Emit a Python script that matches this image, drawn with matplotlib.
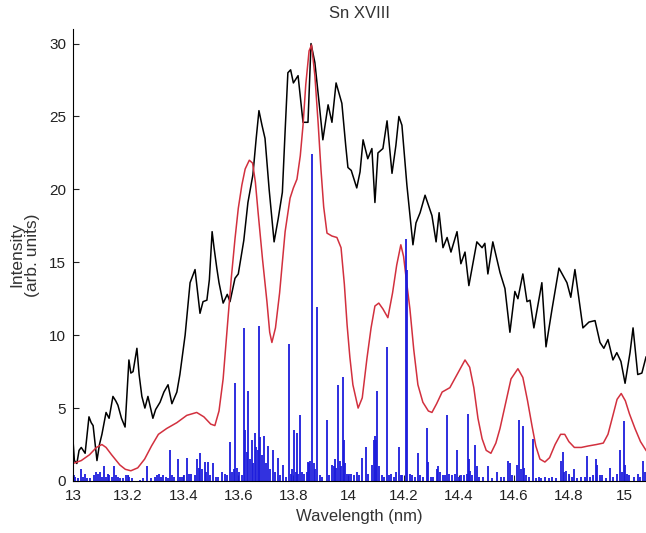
import numpy as np
import matplotlib.pyplot as plt
from matplotlib.ticker import FuncFormatter

# measured spectrum (black)
wl_exp = [13.000, 13.005, 13.014, 13.022, 13.030, 13.044, 13.058, 13.066, 13.073, 13.087,
          13.096, 13.105, 13.120, 13.131, 13.145, 13.155, 13.163, 13.176, 13.189, 13.203,
          13.210, 13.218, 13.232, 13.240, 13.250, 13.261, 13.272, 13.290, 13.300, 13.316,
          13.330, 13.345, 13.359, 13.377, 13.388, 13.407, 13.425, 13.443, 13.452, 13.461,
          13.472, 13.486, 13.495, 13.505, 13.512, 13.522, 13.530, 13.545, 13.560, 13.570,
          13.588, 13.600, 13.620, 13.635, 13.653, 13.665, 13.675, 13.686, 13.697, 13.712,
          13.730, 13.745, 13.760, 13.770, 13.780, 13.790, 13.800, 13.817, 13.835, 13.853,
          13.864, 13.878, 13.893, 13.907, 13.926, 13.940, 13.955, 13.976, 13.990, 13.998,
          14.010, 14.030, 14.042, 14.053, 14.070, 14.085, 14.096, 14.107, 14.125, 14.140,
          14.158, 14.172, 14.183, 14.194, 14.212, 14.234, 14.245, 14.260, 14.278, 14.303,
          14.318, 14.329, 14.343, 14.358, 14.372, 14.394, 14.408, 14.423, 14.437, 14.466,
          14.485, 14.495, 14.506, 14.524, 14.550, 14.568, 14.586, 14.604, 14.615, 14.633,
          14.648, 14.659, 14.673, 14.702, 14.717, 14.739, 14.764, 14.793, 14.807, 14.822,
          14.851, 14.873, 14.895, 14.913, 14.927, 14.942, 14.960, 14.974, 14.989, 15.004,
          15.022, 15.033, 15.050, 15.065, 15.080]
int_exp = [2.8, 1.4, 1.2, 2.1, 2.3, 1.9, 4.4, 4.0, 3.8, 1.4,
           2.5, 3.2, 4.7, 4.3, 5.8, 5.5, 5.2, 4.3, 3.7, 8.3,
           7.4, 7.5, 9.1, 7.3, 5.8, 5.0, 5.8, 4.3, 4.9, 5.4,
           6.1, 6.6, 5.3, 6.1, 7.3, 10.0, 13.6, 14.5, 13.0, 11.5,
           12.3, 12.4, 13.8, 17.1, 16.0, 14.6, 13.6, 12.2, 12.8, 12.3,
           13.9, 14.2, 16.5, 19.1, 21.0, 23.5, 25.4, 24.4, 23.5, 20.0,
           16.4, 18.0, 19.8, 24.0, 28.0, 28.2, 27.3, 27.8, 24.6, 24.6,
           30.0, 28.7, 26.0, 23.4, 25.8, 24.6, 27.3, 25.9, 23.0, 21.5,
           21.3, 20.1, 21.2, 23.4, 22.1, 22.8, 19.1, 22.5, 22.8, 24.7,
           21.1, 23.0, 25.0, 24.4, 20.3, 16.2, 17.7, 18.4, 19.6, 18.2,
           16.4, 18.4, 16.0, 16.7, 15.7, 17.1, 14.9, 15.7, 13.4, 16.4,
           16.0, 16.3, 14.2, 16.4, 14.3, 13.2, 10.2, 13.0, 12.5, 14.2,
           12.3, 12.4, 10.5, 13.6, 9.2, 11.8, 14.6, 13.6, 12.6, 14.5,
           10.5, 10.9, 11.0, 9.5, 9.1, 9.7, 8.3, 8.8, 8.2, 6.7,
           8.8, 10.5, 7.3, 7.4, 8.5]

# convolved calculation (red)
wl_conv = [13.000, 13.030, 13.060, 13.085, 13.105, 13.120, 13.140, 13.170, 13.190, 13.210,
           13.235, 13.260, 13.285, 13.310, 13.340, 13.377, 13.413, 13.449, 13.475, 13.500,
           13.515, 13.530, 13.545, 13.562, 13.575, 13.588, 13.600, 13.613, 13.625, 13.640,
           13.652, 13.662, 13.672, 13.688, 13.704, 13.714, 13.722, 13.735, 13.750, 13.760,
           13.770, 13.788, 13.800, 13.813, 13.825, 13.835, 13.845, 13.857, 13.866, 13.878,
           13.890, 13.900, 13.910, 13.922, 13.940, 13.958, 13.973, 13.985, 13.995, 14.005,
           14.016, 14.035, 14.050, 14.067, 14.082, 14.096, 14.110, 14.125, 14.143, 14.160,
           14.175, 14.190, 14.200, 14.210, 14.223, 14.237, 14.252, 14.270, 14.290, 14.303,
           14.320, 14.340, 14.368, 14.397, 14.423, 14.440, 14.455, 14.470, 14.485, 14.500,
           14.517, 14.535, 14.550, 14.570, 14.590, 14.615, 14.633, 14.650, 14.666, 14.680,
           14.695, 14.713, 14.730, 14.750, 14.770, 14.785, 14.800, 14.820, 14.845, 14.870,
           14.900, 14.925, 14.942, 14.960, 14.975, 14.990, 15.005, 15.020, 15.040, 15.060,
           15.080]
int_conv = [1.2, 1.4, 1.8, 2.3, 2.5, 2.3, 1.8, 1.1, 0.8, 0.7,
            0.9, 1.5, 2.4, 3.2, 3.6, 4.0, 4.5, 4.7, 4.4, 3.9,
            3.8, 4.8, 7.0, 11.0, 14.0, 16.6, 18.7, 20.3, 21.4, 22.0,
            21.8, 20.5, 18.4, 15.2, 12.3, 10.2, 9.5, 10.5, 12.9, 15.0,
            17.1, 19.4, 20.1, 20.7, 22.3, 24.4, 27.2, 29.5, 29.9, 27.8,
            24.5, 21.4, 18.8, 17.0, 16.8, 16.7, 16.0, 13.5, 10.7, 8.5,
            6.6, 5.0, 5.7, 8.4, 10.5, 12.0, 12.2, 11.8, 11.2, 12.9,
            14.8, 16.2, 15.4, 13.8, 11.8, 9.0, 6.6, 5.4, 4.8, 4.7,
            5.3, 6.1, 6.4, 7.4, 8.3, 7.8, 6.4, 4.3, 2.9, 2.1,
            1.9, 2.6, 3.6, 5.3, 7.0, 7.7, 7.1, 5.5, 3.8, 2.4,
            1.5, 1.3, 1.6, 2.5, 3.2, 3.2, 2.7, 2.3, 2.3, 2.4,
            2.5, 2.6, 3.2, 4.5, 5.6, 6.0, 5.5, 4.6, 3.6, 2.7,
            2.1]

# individual transition lines (blue)
wl_lines = [13.002, 13.008, 13.018, 13.028, 13.035, 13.042, 13.050, 13.062, 13.075, 13.085,
            13.092, 13.098, 13.104, 13.112, 13.118, 13.126, 13.132, 13.140, 13.150, 13.156,
            13.164, 13.172, 13.180, 13.192, 13.198, 13.205, 13.214, 13.245, 13.255, 13.268,
            13.282, 13.298, 13.306, 13.312, 13.318, 13.326, 13.336, 13.344, 13.352, 13.360,
            13.368, 13.380, 13.388, 13.396, 13.404, 13.413, 13.421, 13.430, 13.442, 13.450,
            13.457, 13.462, 13.470, 13.478, 13.484, 13.490, 13.496, 13.510, 13.518, 13.528,
            13.540, 13.552, 13.560, 13.570, 13.578, 13.583, 13.588, 13.595, 13.603, 13.612,
            13.620, 13.625, 13.630, 13.636, 13.642, 13.650, 13.655, 13.660, 13.666, 13.670,
            13.675, 13.680, 13.686, 13.692, 13.700, 13.708, 13.716, 13.725, 13.733, 13.744,
            13.752, 13.763, 13.772, 13.784, 13.790, 13.796, 13.802, 13.808, 13.813, 13.818,
            13.824, 13.830, 13.840, 13.848, 13.852, 13.857, 13.862, 13.868, 13.874, 13.880,
            13.886, 13.895, 13.905, 13.922, 13.930, 13.940, 13.946, 13.952, 13.956, 13.962,
            13.968, 13.974, 13.980, 13.984, 13.988, 13.995, 14.002, 14.010, 14.020, 14.030,
            14.040, 14.050, 14.063, 14.072, 14.085, 14.092, 14.096, 14.100, 14.104, 14.110,
            14.120, 14.130, 14.140, 14.148, 14.155, 14.165, 14.174, 14.183, 14.190, 14.196,
            14.210, 14.214, 14.222, 14.230, 14.240, 14.252, 14.260, 14.270, 14.285, 14.290,
            14.298, 14.308, 14.320, 14.326, 14.334, 14.342, 14.350, 14.357, 14.365, 14.375,
            14.385, 14.394, 14.400, 14.410, 14.420, 14.430, 14.435, 14.438, 14.442, 14.450,
            14.460, 14.466, 14.475, 14.490, 14.506, 14.520, 14.540, 14.552, 14.565, 14.580,
            14.585, 14.595, 14.610, 14.620, 14.626, 14.633, 14.637, 14.645, 14.655, 14.670,
            14.680, 14.690, 14.700, 14.715, 14.728, 14.740, 14.755, 14.770, 14.778, 14.784,
            14.790, 14.800, 14.810, 14.820, 14.830, 14.845, 14.858, 14.866, 14.875, 14.888,
            14.898, 14.903, 14.912, 14.920, 14.935, 14.950, 14.962, 14.975, 14.985, 14.992,
            15.000, 15.004, 15.010, 15.020, 15.035, 15.050, 15.060, 15.070, 15.076]
gf_lines = [0.4, 0.3, 0.2, 0.8, 0.3, 0.5, 0.2, 0.2, 0.4, 0.6,
            0.5, 0.6, 0.3, 1.0, 0.3, 0.5, 0.4, 0.3, 1.0, 0.4,
            0.3, 0.2, 0.2, 0.4, 0.4, 0.3, 0.2, 0.1, 0.2, 1.0,
            0.2, 0.3, 0.4, 0.5, 0.3, 0.4, 0.3, 0.2, 2.1, 0.4,
            0.3, 1.5, 0.3, 0.3, 0.4, 1.6, 0.5, 0.5, 0.4, 1.5,
            0.9, 1.9, 0.8, 1.3, 0.6, 1.3, 0.4, 1.2, 0.3, 0.3,
            0.6, 0.5, 0.4, 2.7, 0.6, 0.8, 6.7, 0.9, 0.6, 0.4,
            10.5, 3.5, 2.0, 6.2, 1.5, 2.8, 1.2, 3.3, 2.3, 2.1,
            10.6, 3.0, 1.8, 3.1, 1.2, 2.4, 0.8, 2.1, 0.6, 1.6,
            0.4, 1.1, 0.3, 9.4, 0.5, 0.8, 3.5, 0.6, 3.3, 0.5,
            4.5, 0.6, 0.5, 0.6, 1.3, 1.2, 1.4, 22.4, 1.2, 0.8,
            11.9, 0.4, 0.3, 4.2, 0.4, 1.1, 1.0, 1.5, 0.9, 6.6,
            1.4, 1.0, 7.1, 2.8, 1.2, 0.5, 0.5, 0.5, 0.4, 0.6,
            0.4, 1.6, 2.3, 0.5, 1.1, 2.8, 3.1, 2.8, 6.2, 1.0,
            0.4, 0.3, 9.2, 0.4, 0.5, 0.3, 0.6, 2.3, 0.4, 0.4,
            16.6, 14.5, 0.5, 0.4, 0.3, 1.9, 0.4, 0.3, 3.6, 1.3,
            0.3, 0.3, 0.8, 1.0, 0.6, 0.4, 0.4, 4.5, 0.5, 0.4,
            0.5, 2.1, 0.3, 0.4, 0.4, 0.5, 4.6, 1.5, 0.7, 0.4,
            2.5, 1.0, 0.3, 0.3, 1.0, 0.2, 0.6, 0.3, 0.3, 1.4,
            1.2, 0.4, 1.1, 4.2, 0.8, 3.8, 0.9, 0.4, 0.3, 2.9,
            0.2, 0.3, 0.2, 0.3, 0.2, 0.3, 0.2, 1.4, 2.0, 0.6,
            0.7, 0.5, 0.3, 0.8, 0.2, 0.3, 0.3, 1.7, 0.3, 0.4,
            1.5, 1.1, 0.4, 0.4, 0.2, 0.9, 0.3, 0.5, 2.1, 0.6,
            4.1, 1.1, 0.5, 0.4, 0.3, 0.5, 0.3, 1.4, 0.6]

plt.rcParams['font.family'] = ['Liberation Sans', 'DejaVu Sans']

fig = plt.figure(figsize=(6.46, 5.33), dpi=100)
ax = fig.add_axes([0.113, 0.0976, 0.887, 0.848])

ax.plot(wl_exp, int_exp, color='black', lw=1.1)
ax.plot(wl_conv, int_conv, color='#d2303e', lw=1.1)
ax.vlines(wl_lines, 0, gf_lines, color='#1c1cdc', lw=1.3)

ax.set_xlim(13, 15.08)
ax.set_ylim(0, 31)
ax.set_xticks(np.arange(13, 15.01, 0.2))
ax.set_yticks(np.arange(0, 31, 5))
ax.xaxis.set_major_formatter(FuncFormatter(lambda v, p: '%g' % round(v, 1)))
ax.tick_params(direction='in', length=4, labelsize=11, colors='#222222')
ax.tick_params(axis='x', pad=6)
ax.tick_params(axis='y', pad=5)
for s in ['top', 'right']:
    ax.spines[s].set_visible(False)

ax.set_title('Sn XVIII', fontsize=12, color='#333333', pad=8)
ax.set_xlabel('Wavelength (nm)', fontsize=12, color='#333333', labelpad=4)
ax.set_ylabel('Intensity\n(arb. units)', fontsize=12.5, color='#333333',
              linespacing=1.05)
ax.yaxis.set_label_coords(-0.057, 0.5)

fig.savefig('out.png', dpi=100)
